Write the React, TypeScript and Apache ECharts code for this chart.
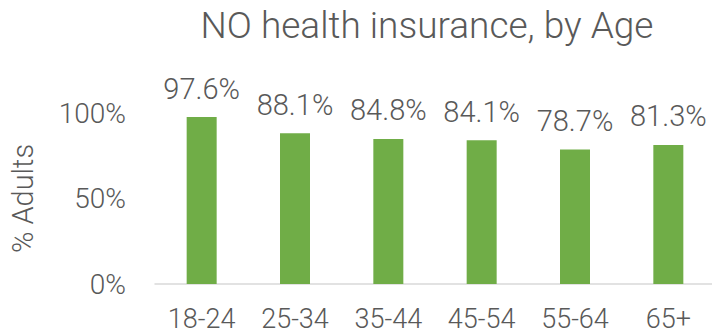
import React, { useEffect, useRef } from "react";
import * as echarts from "echarts";

const categories = ["18-24", "25-34", "35-44", "45-54", "55-64", "65+"];
const values = [97.6, 88.1, 84.8, 84.1, 78.7, 81.3];
const yTicks = [0, 50, 100];

const FONT = "Roboto";
const GRAY = "#595959";

export default function App() {
  const ref = useRef<HTMLDivElement>(null);
  useEffect(() => {
    if (!ref.current) return;
    const chart = echarts.init(ref.current, null, { renderer: "svg" });
    chart.setOption({
      animation: false,
      title: {
        text: "NO health insurance, by Age",
        left: 422,
        textAlign: "center",
        top: 2,
        textStyle: { fontFamily: FONT, fontWeight: 300, fontSize: 37, color: GRAY },
      },
      grid: { left: 152, right: 5, top: 113, bottom: 52 },
      xAxis: {
        type: "category",
        data: categories,
        axisLine: { lineStyle: { color: "#d9d9d9", width: 1.5 } },
        axisTick: { show: false },
        axisLabel: { fontFamily: FONT, fontWeight: 300, fontSize: 27, color: GRAY, margin: 21, lineHeight: 28 },
      },
      yAxis: {
        type: "value",
        min: 0,
        max: 100,
        interval: 50,
        name: "% Adults",
        nameLocation: "middle",
        nameGap: 118,
        nameTextStyle: { fontFamily: FONT, fontWeight: 300, fontSize: 29, color: GRAY },
        splitLine: { show: false },
        axisLine: { show: false },
        axisTick: { show: false },
        axisLabel: {
          fontFamily: FONT,
          fontWeight: 300,
          fontSize: 28,
          color: GRAY,
          margin: 29,
          formatter: (v: number) => (yTicks.includes(v) ? v + "%" : ""),
        },
      },
      series: [
        {
          type: "bar",
          data: values,
          barWidth: 30,
          itemStyle: { color: "#70AD47" },
          label: {
            show: true,
            position: "top",
            distance: 14,
            formatter: (p: any) => p.value.toFixed(1) + "%",
            fontFamily: FONT,
            fontWeight: 300,
            fontSize: 29,
            color: GRAY,
          },
        },
      ],
    });
    return () => chart.dispose();
  }, []);
  return <div ref={ref} style={{ width: 720, height: 336, margin: -8 }} />;
}
